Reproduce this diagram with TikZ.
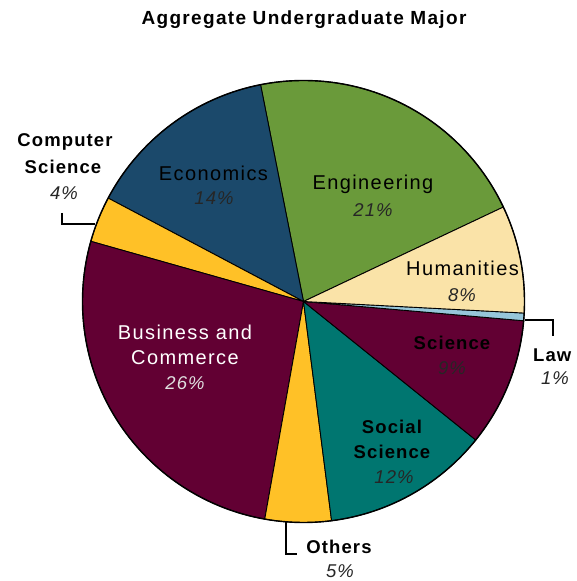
\documentclass[tikz,border=0pt]{standalone}
\usepackage{fontspec}
\setmainfont{Liberation Sans}
\newfontfamily\lblfont[LetterSpace=6]{Liberation Sans}
\newfontfamily\widefont[LetterSpace=7]{Liberation Sans}
\definecolor{econ}{RGB}{27,73,107}
\definecolor{engi}{RGB}{106,154,58}
\definecolor{huma}{RGB}{250,227,168}
\definecolor{lawc}{RGB}{150,198,218}
\definecolor{maro}{RGB}{98,0,51}
\definecolor{teal2}{RGB}{0,118,112}
\definecolor{gold}{RGB}{255,193,39}
\newcommand\pieslice[3]{\filldraw[fill=#3, draw=black, line width=0.9pt, line join=round] (C) -- ++(#1:221) arc[start angle=#1, end angle=#2, radius=221] -- cycle;}
\begin{document}
\begin{tikzpicture}[x=1pt,y=1pt,
  lbl/.style={font=\widefont\fontsize{20}{22}\selectfont, inner sep=0pt},
  blbl/.style={font=\lblfont\bfseries\fontsize{18.5}{20}\selectfont, inner sep=0pt},
  pct/.style={font=\lblfont\itshape\fontsize{18.5}{20}\selectfont, inner sep=0pt, text=black!85},
  leader/.style={draw=black, line width=1.6pt}]
\useasboundingbox (0,0) rectangle (576,581);
\fill[white] (0,0) rectangle (576,581);
\coordinate (C) at (303.5,279.5);
\pieslice{25.3}{101.2}{engi}
\pieslice{101.2}{152.1}{econ}
\pieslice{152.1}{164.2}{gold}
\pieslice{164.2}{259.9}{maro}
\pieslice{259.9}{277.3}{gold}
\pieslice{277.3}{321.2}{teal2}
\pieslice{321.2}{355.0}{maro}
\pieslice{355.0}{357.0}{lawc}
\pieslice{357.0}{385.3}{huma}
\draw[line width=1.4pt] (C) circle[radius=221];
% title
\node[font=\widefont\bfseries\fontsize{19}{21}\selectfont, inner sep=0pt] (title) at (304,561) {Aggregate Undergraduate Major};
% inside labels
\node[lbl] (econL) at (213.5,408) {Economics};
\node[pct] (econP) at (214,383) {14\%};
\node[lbl] (engL) at (373,397) {Engineering};
\node[pct] (engP) at (373,371) {21\%};
\node[lbl] (humL) at (462.5,313) {Humanities};
\node[pct] (humP) at (462,286) {8\%};
\node[blbl] (sciL) at (452,238) {Science};
\node[pct] (sciP) at (452,213) {9\%};
\node[blbl] (socL1) at (392,154) {Social};
\node[blbl] (socL2) at (392,129) {Science};
\node[pct] (socP) at (394,104) {12\%};
\node[lbl, text=white] (busL1) at (185,249) {Business and};
\node[lbl, text=white] (busL2) at (185,223) {Commerce};
\node[pct, text=white!88!black] (busP) at (185,198) {26\%};
% outside labels
\node[blbl] (csL1) at (65,439) {Computer};
\node[blbl] (csL2) at (63,414) {Science};
\node[pct] (csP) at (64,388) {4\%};
\node[blbl, anchor=west] (lawL) at (533,226) {Law};
\node[pct] (lawP) at (555,203) {1\%};
\node[blbl] (othL) at (339,34) {Others};
\node[pct] (othP) at (340,10) {5\%};
% leaders
\coordinate (csA) at (62,368);
\coordinate (csE) at (95,357);
\draw[leader] (csA) |- (csE);
\coordinate (lawE) at (525,261);
\coordinate (lawA) at (553,245);
\draw[leader] (lawE) -| (lawA);
\coordinate (othE) at (286,59);
\coordinate (othA) at (297,27);
\draw[leader] (othE) |- (othA);
\end{tikzpicture}
\end{document}
